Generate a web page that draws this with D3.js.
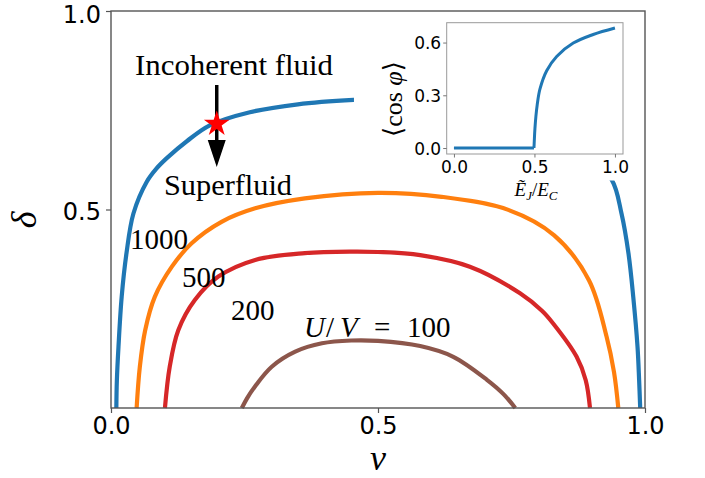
<!DOCTYPE html>
<html>
<head>
<meta charset="utf-8">
<script src="https://cdn.jsdelivr.net/npm/d3@7"></script>
<style>
body { margin: 0; background: #fff; }
</style>
</head>
<body>
<script>
// phase boundaries, [nu, delta] pairs
var curve1000 = [[0.010,0],[0.011,0.07],[0.014,0.154],[0.020,0.280],[0.029,0.390],[0.042,0.490],
  [0.067,0.570],[0.085,0.603],[0.105,0.630],[0.142,0.672],[0.185,0.712],[0.26,0.745],[0.35,0.765],
  [0.454,0.776],[0.5,0.778],[0.546,0.776],[0.65,0.765],[0.74,0.745],[0.815,0.712],[0.858,0.672],
  [0.895,0.630],[0.938,0.574],[0.956,0.490],[0.969,0.390],[0.978,0.280],[0.986,0.154],[0.989,0.07],[0.991,0]];
var curve500 = [[0.048,0],[0.054,0.104],[0.064,0.196],[0.082,0.280],[0.114,0.356],[0.151,0.415],
  [0.207,0.469],[0.270,0.503],[0.363,0.528],[0.5,0.542],[0.619,0.532],[0.744,0.499],[0.83,0.435],
  [0.895,0.322],[0.928,0.180],[0.942,0.09],[0.950,0]];
var curve200 = [[0.101,0],[0.110,0.104],[0.126,0.196],[0.157,0.272],[0.201,0.331],[0.270,0.373],
  [0.363,0.390],[0.45,0.394],[0.5,0.393],[0.579,0.385],[0.672,0.356],[0.766,0.289],[0.807,0.245],
  [0.828,0.213],[0.872,0.129],[0.889,0.07],[0.897,0]];
var curve100 = [[0.245,0],[0.255,0.025],[0.270,0.055],[0.301,0.104],[0.345,0.142],[0.395,0.163],
  [0.45,0.170],[0.5,0.169],[0.579,0.156],[0.641,0.129],[0.704,0.071],[0.735,0.035],[0.757,0]];
var curves = [curve1000, curve500, curve200, curve100];
var curveColors = ['#1f77b4', '#ff7f0e', '#d62728', '#8c564b'];
var curveLabels = ['1000', '500', '200'];
var xTicks = [0, 0.5, 1.0];
var yTicks = [0.5, 1.0];

// inset: order parameter vs E_J/E_C
var insetX = [0, 0.1, 0.2, 0.3, 0.4, 0.497, 0.499, 0.503, 0.509, 0.517, 0.534, 0.576, 0.638, 0.741, 0.865, 1.0];
var insetY = [0, 0, 0, 0, 0, 0, 0.04, 0.11, 0.18, 0.245, 0.335, 0.440, 0.521, 0.597, 0.646, 0.683];
var insetXTicks = [0, 0.5, 1.0];
var insetYTicks = [0, 0.3, 0.6];

var starPoint = [0.198, 0.718];

var W = 705, H = 478;
var svg = d3.select('body').append('svg').attr('width', W).attr('height', H);

var x = d3.scaleLinear().domain([0, 1]).range([111, 645]);
var y = d3.scaleLinear().domain([0, 1]).range([408, 11]);
var fmt = d3.format('.1f');
var serif = '"Liberation Serif", "DejaVu Serif", serif';
var sans = '"DejaVu Sans", sans-serif';

var line = d3.line()
  .x(function(d) { return x(d[0]); })
  .y(function(d) { return y(d[1]); })
  .curve(d3.curveCatmullRom.alpha(0.5));

svg.append('g').selectAll('path')
  .data(curves)
  .enter().append('path')
  .attr('d', line)
  .attr('fill', 'none')
  .attr('stroke', function(d, i) { return curveColors[i]; })
  .attr('stroke-width', 4.2);

// area hidden behind the inset
svg.append('rect')
  .attr('x', x(0.455)).attr('y', y(1) + 1)
  .attr('width', x(1) - x(0.455) - 1).attr('height', y(0.573) - y(1) - 1)
  .attr('fill', '#fff');

// frame
svg.append('rect')
  .attr('x', x(0)).attr('y', y(1))
  .attr('width', x(1) - x(0)).attr('height', y(0) - y(1))
  .attr('fill', 'none').attr('stroke', '#555').attr('stroke-width', 1.4);

var xa = svg.append('g').attr('transform', 'translate(0,' + y(0) + ')')
  .call(d3.axisBottom(x).tickValues(xTicks).tickFormat(fmt).tickSize(5).tickPadding(4));
var ya = svg.append('g').attr('transform', 'translate(' + x(0) + ',0)')
  .call(d3.axisLeft(y).tickValues(yTicks).tickFormat(fmt).tickSize(5).tickPadding(5));
[xa, ya].forEach(function(a) {
  a.select('.domain').remove();
  a.selectAll('line').attr('stroke', '#555').attr('stroke-width', 1.2);
  a.selectAll('text').style('font-family', sans).style('font-size', '24px').attr('fill', '#000');
});
ya.selectAll('text').attr('dy', function(d) { return d == 1 ? '11.5px' : '9.5px'; });

svg.append('text')
  .attr('x', x(0.5)).attr('y', 470)
  .attr('text-anchor', 'middle')
  .style('font-family', serif).style('font-style', 'italic').style('font-size', '36px')
  .text('ν');
svg.append('text')
  .attr('transform', 'translate(36,220) rotate(-90)')
  .attr('text-anchor', 'middle')
  .style('font-family', serif).style('font-style', 'italic').style('font-size', '36px')
  .text('δ');

// annotations
svg.append('text')
  .attr('x', 135).attr('y', 75)
  .attr('textLength', 198).attr('lengthAdjust', 'spacingAndGlyphs')
  .style('font-family', serif).style('font-size', '29px')
  .text('Incoherent fluid');
svg.append('text')
  .attr('x', 164).attr('y', 195)
  .attr('textLength', 128).attr('lengthAdjust', 'spacingAndGlyphs')
  .style('font-family', serif).style('font-size', '29px')
  .text('Superfluid');

var labelPos = [[130, 249], [182, 287], [231, 320]];
svg.append('g').selectAll('text')
  .data(curveLabels)
  .enter().append('text')
  .attr('x', function(d, i) { return labelPos[i][0]; })
  .attr('y', function(d, i) { return labelPos[i][1]; })
  .style('font-family', serif).style('font-size', '29px')
  .text(function(d) { return d; });

var uv = svg.append('text').attr('y', 337)
  .style('font-family', serif).style('font-size', '29px');
uv.append('tspan').attr('x', 304).style('font-style', 'italic').text('U');
uv.append('tspan').attr('x', 326).text('/');
uv.append('tspan').attr('x', 340).style('font-style', 'italic').text('V');
uv.append('tspan').attr('x', 374).text('=');
uv.append('tspan').attr('x', 407).text('100');

// arrow through the star
var ax = x(starPoint[0]);
svg.append('line')
  .attr('x1', ax).attr('x2', ax).attr('y1', 85).attr('y2', 142)
  .attr('stroke', '#000').attr('stroke-width', 3.5);
svg.append('path')
  .attr('d', 'M' + (ax - 9) + ',140L' + (ax + 9) + ',140L' + ax + ',167Z')
  .attr('fill', '#000');
svg.append('path')
  .attr('transform', 'translate(' + x(starPoint[0]) + ',' + (y(starPoint[1]) + 1) + ')')
  .attr('d', d3.symbol().type(d3.symbolStar).size(205)())
  .attr('fill', '#ff0000');

// inset
var ix = d3.scaleLinear().domain([-0.045, 1.05]).range([446.7, 623]);
var iy = d3.scaleLinear().domain([-0.034, 0.713]).range([154, 22.7]);

svg.append('rect')
  .attr('x', ix(-0.045)).attr('y', iy(0.713))
  .attr('width', ix(1.05) - ix(-0.045)).attr('height', iy(-0.034) - iy(0.713))
  .attr('fill', '#fff').attr('stroke', '#999').attr('stroke-width', 1);

var ipts = insetX.map(function(v, i) { return [v, insetY[i]]; });
var iline = d3.line()
  .x(function(d) { return ix(d[0]); })
  .y(function(d) { return iy(d[1]); });
var split = insetY.lastIndexOf(0);
svg.append('path')
  .attr('d', iline.curve(d3.curveLinear)(ipts.slice(0, split + 1)) +
             iline.curve(d3.curveCatmullRom.alpha(0.5))(ipts.slice(split)))
  .attr('fill', 'none').attr('stroke', '#1f77b4').attr('stroke-width', 3);

var ixa = svg.append('g').attr('transform', 'translate(0,154)')
  .call(d3.axisBottom(ix).tickValues(insetXTicks).tickFormat(fmt).tickSize(3.5).tickPadding(3));
var iya = svg.append('g').attr('transform', 'translate(446.7,0)')
  .call(d3.axisLeft(iy).tickValues(insetYTicks).tickFormat(fmt).tickSize(3.5).tickPadding(2));
[ixa, iya].forEach(function(a) {
  a.select('.domain').remove();
  a.selectAll('line').attr('stroke', '#777');
  a.selectAll('text').style('font-family', sans).style('font-size', '17px').attr('fill', '#000');
});
iya.selectAll('text').attr('dy', '0.36em');

var el = svg.append('text').attr('x', 536).attr('y', 196).attr('text-anchor', 'middle')
  .style('font-family', serif).style('font-size', '19px');
el.append('tspan').style('font-style', 'italic').text('E\u0303');
el.append('tspan').attr('dy', 4).style('font-size', '13px').style('font-style', 'italic').text('J');
el.append('tspan').attr('dy', -4).text('/');
el.append('tspan').style('font-style', 'italic').text('E');
el.append('tspan').attr('dy', 4).style('font-size', '13px').style('font-style', 'italic').text('C');

var cl = svg.append('text')
  .attr('transform', 'translate(402,137) rotate(-90)')
  .attr('text-anchor', 'start')
  .style('font-family', serif).style('font-size', '26px');
cl.append('tspan').text('\u27E8cos ');
cl.append('tspan').style('font-style', 'italic').text('φ');
cl.append('tspan').text('\u27E9');
</script>
</body>
</html>
